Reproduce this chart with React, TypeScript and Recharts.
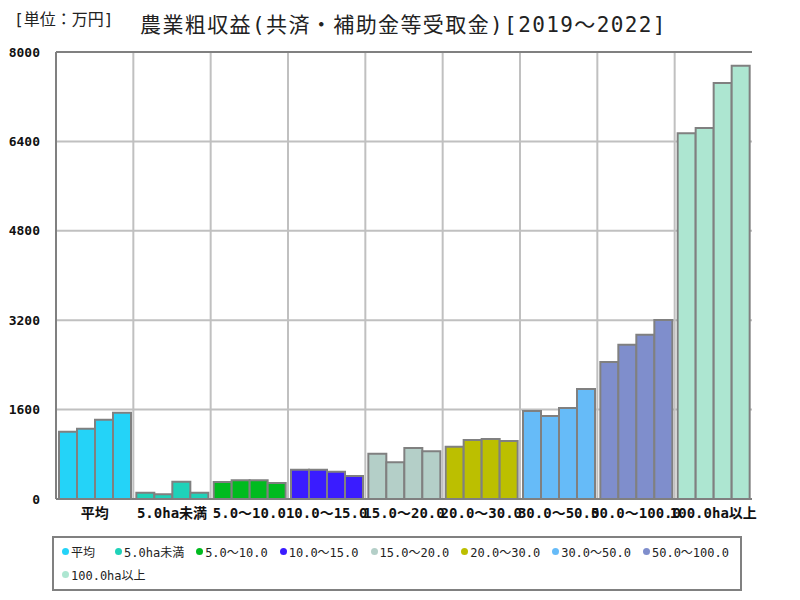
import { BarChart, Bar, Cell, XAxis, YAxis, CartesianGrid, ReferenceLine } from 'recharts';

const categories = ['平均', '5.0ha未満', '5.0～10.0', '10.0～15.0', '15.0～20.0', '20.0～30.0', '30.0～50.0', '50.0～100.0', '100.0ha以上'];
const colors = ['#24d3f8', '#1fd2b9', '#00bb1f', '#3a1cff', '#b4cfc8', '#bcbf00', '#66bbf8', '#7f8ecc', '#ade6d1'];
const years = ['2019', '2020', '2021', '2022'];

const v2019 = [1204, 113, 304, 525, 811, 936, 1575, 2452, 6544];
const v2020 = [1258, 84, 334, 525, 656, 1056, 1485, 2761, 6639];
const v2021 = [1419, 310, 334, 489, 913, 1074, 1628, 2940, 7444];
const v2022 = [1544, 113, 286, 412, 853, 1038, 1968, 3203, 7754];

const yTicks = [0, 1600, 3200, 4800, 6400, 8000];

const data = categories.map((name, i) => ({
  name,
  y2019: v2019[i],
  y2020: v2020[i],
  y2021: v2021[i],
  y2022: v2022[i],
}));

const tickFont = '"DejaVu Sans Mono", "Noto Sans CJK JP", monospace';
const frame = '#808080';

export default function App() {
  const verticalLines = ({ offset }: any) => {
    const out: number[] = [];
    for (let i = 1; i < categories.length; i++) {
      out.push(offset.left + (offset.width * i) / categories.length);
    }
    return out;
  };

  return (
    <div style={{ position: 'absolute', left: 0, top: 0, width: 800, height: 600, background: '#fff', fontFamily: tickFont }}>
      <div style={{ position: 'absolute', left: 14, top: 6, fontSize: 16, color: '#222', whiteSpace: 'nowrap' }}>[単位：万円]</div>
      <div style={{ position: 'absolute', left: 140, top: 10, fontSize: 21, letterSpacing: 1.4, color: '#222', whiteSpace: 'nowrap', lineHeight: '30px' }}>
        農業粗収益(共済・補助金等受取金)[2019～2022]
      </div>

      <div style={{ position: 'absolute', left: 0, top: 0 }}>
        <BarChart
          width={800}
          height={530}
          data={data}
          margin={{ top: 52, right: 48, left: 0, bottom: 1 }}
          barCategoryGap={3}
          barGap={0}
        >
          <CartesianGrid
            stroke="#c0c0c0"
            strokeWidth={2}
            verticalCoordinatesGenerator={verticalLines}
          />
          <XAxis
            dataKey="name"
            height={30}
            interval={0}
            tickLine={false}
            tickSize={0}
            tickMargin={9}
            axisLine={{ stroke: frame, strokeWidth: 2 }}
            tick={{ fill: '#111', fontSize: 14, fontWeight: 'bold', fontFamily: tickFont }}
          />
          <YAxis
            width={56}
            domain={[0, 8000]}
            ticks={yTicks}
            tickLine={false}
            tickSize={0}
            tickMargin={16}
            axisLine={{ stroke: frame, strokeWidth: 2 }}
            tick={{ fill: '#111', fontSize: 13, fontWeight: 'bold', fontFamily: tickFont }}
          />
          <YAxis
            yAxisId="r"
            orientation="right"
            width={0}
            domain={[0, 8000]}
            tick={false}
            tickLine={false}
            axisLine={{ stroke: frame, strokeWidth: 2 }}
          />
          <ReferenceLine y={8000} stroke={frame} strokeWidth={2} />
          {years.map((yr) => (
            <Bar key={yr} dataKey={'y' + yr} name={yr} stroke={frame} strokeWidth={2} isAnimationActive={false}>
              {categories.map((c, i) => (
                <Cell key={c} fill={colors[i]} />
              ))}
            </Bar>
          ))}
        </BarChart>
      </div>

      <div
        style={{
          position: 'absolute',
          left: 52,
          top: 536,
          width: 690,
          height: 55,
          boxSizing: 'border-box',
          border: `2px solid ${frame}`,
          padding: '2px 8px',
          display: 'flex',
          flexWrap: 'wrap',
          alignContent: 'flex-start',
          columnGap: 12,
          fontSize: 12,
          color: '#222',
        }}
      >
        {categories.map((c, i) => (
          <div key={c} style={{ display: 'flex', alignItems: 'center', height: 23, whiteSpace: 'nowrap', marginRight: i === 0 ? 8 : 0 }}>
            <span style={{ display: 'inline-block', width: 7, height: 7, borderRadius: '50%', background: colors[i], marginRight: 2 }} />
            {c}
          </div>
        ))}
      </div>
    </div>
  );
}
